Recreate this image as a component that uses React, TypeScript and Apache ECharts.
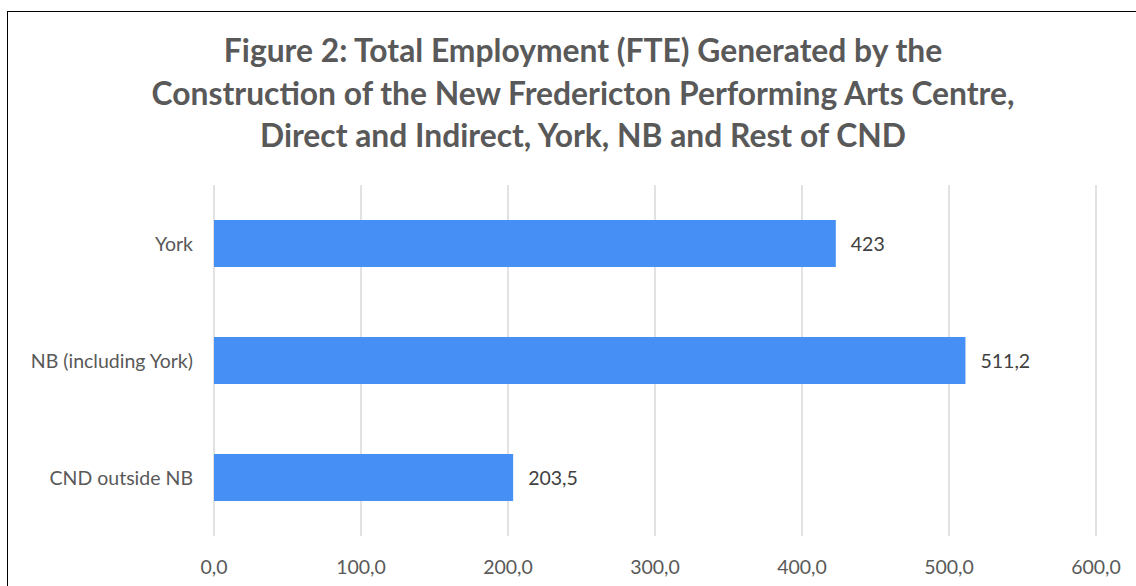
import React, { useEffect, useRef } from "react";
import * as echarts from "echarts";

const categories = ["York", "NB (including York)", "CND outside NB"];
const values = [423, 511.2, 203.5];
const valueLabels = ["423", "511,2", "203,5"];
const titleLines = [
  "Figure 2: Total Employment (FTE) Generated by the",
  "Construction of the New Fredericton Performing Arts Centre,",
  "Direct and Indirect, York, NB and Rest of CND",
];

export default function App() {
  const ref = useRef<HTMLDivElement>(null);
  useEffect(() => {
    if (!ref.current) return;
    const chart = echarts.init(ref.current, undefined, { renderer: "svg" });
    chart.setOption({
      animation: false,
      backgroundColor: "transparent",
      title: {
        text: titleLines.join("\n"),
        left: 578,
        textAlign: "center",
        top: 24,
        textStyle: {
          fontFamily: "Lato",
          fontWeight: "bold",
          fontSize: 31.8,
          lineHeight: 42.5,
          color: "#595959",
        },
      },
      grid: { left: 214, right: 40, top: 185, bottom: 50 },
      xAxis: {
        type: "value",
        min: 0,
        max: 600,
        interval: 100,
        axisLine: { show: false },
        axisTick: { show: false },
        splitLine: { lineStyle: { color: "#d9d9d9", width: 1.5 } },
        axisLabel: {
          margin: 20,
          fontFamily: "Lato",
          fontSize: 19.5,
          color: "#595959",
          formatter: (v: number) => v.toFixed(1).replace(".", ","),
        },
      },
      yAxis: {
        type: "category",
        data: categories,
        inverse: true,
        axisLine: { show: false },
        axisTick: { show: false },
        axisLabel: {
          margin: 21,
          fontFamily: "Lato",
          fontSize: 19.5,
          color: "#595959",
        },
      },
      series: [
        {
          type: "bar",
          data: values,
          barCategoryGap: "60%",
          itemStyle: { color: "#4690F5" },
          label: {
            show: true,
            position: "right",
            distance: 15,
            fontFamily: "Lato",
            fontSize: 19.5,
            color: "#404040",
            formatter: (p: any) => valueLabels[p.dataIndex],
          },
        },
      ],
    });
    return () => chart.dispose();
  }, []);
  return (
    <div
      style={{
        position: "fixed",
        left: 0,
        top: 0,
        width: 1136,
        height: 586,
        background: "#fff",
        overflow: "hidden",
      }}
    >
      <div
        style={{
          position: "absolute",
          left: 7,
          top: 11,
          width: 1200,
          height: 700,
          border: "1.5px solid #000",
          boxSizing: "border-box",
        }}
      />
      <div ref={ref} style={{ position: "absolute", left: 0, top: 0, width: 1136, height: 586 }} />
    </div>
  );
}
